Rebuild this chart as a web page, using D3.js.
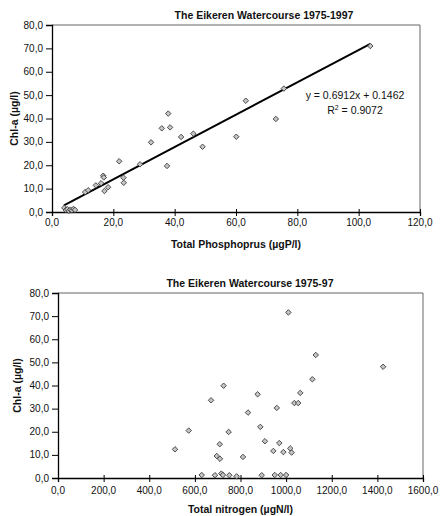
<!DOCTYPE html>
<head>
    <meta charset="utf-8" />
    <script src="https://d3js.org/d3.v7.min.js"></script>
    <style>
        body { margin: 0; background: #fff; }
        text { font-family: "Liberation Sans", Arial, sans-serif; fill: #111; }
        .tick-label { font-size: 10px; }
        .title { font-size: 10.5px; font-weight: bold; }
    </style>
</head>
<body>
<script>
    // Chl-a against total phosphorus
    var phosX = [4.0, 4.5, 5.0, 5.5, 6.0, 6.5, 7.0, 7.5, 10.8, 11.8, 14.3, 16.0, 16.7, 16.9, 17.1, 18.3, 21.9, 23.3, 23.4, 28.7, 32.3, 35.8, 37.5, 37.9, 38.5, 42.1, 46.1, 49.1, 60.1, 63.2, 73.0, 75.6, 103.8];
    var phosY = [1.8, 0.8, 1.2, 0.5, 1.0, 0.7, 1.3, 0.9, 8.5, 9.3, 11.4, 12.3, 15.5, 14.8, 9.0, 10.6, 21.7, 14.7, 12.5, 20.4, 29.8, 35.8, 19.7, 42.1, 36.2, 32.1, 33.5, 27.9, 32.2, 47.6, 39.8, 52.8, 71.0];
    var phosTicks = [0, 20, 40, 60, 80, 100, 120];
    // trend line as printed on the chart
    var slope = 0.6912, intercept = 0.1462, r2 = 0.9072;
    var trendRange = [3.9, 103.8];

    // Chl-a against total nitrogen
    var nitX = [513, 573, 630, 671, 688, 696, 709, 710, 716, 723, 726, 748, 751, 783, 811, 833, 875, 887, 893, 907, 944, 950, 959, 970, 976, 988, 1000, 1010, 1018, 1024, 1036, 1053, 1062, 1115, 1130, 1425];
    var nitY = [12.4, 20.5, 1.3, 33.6, 1.2, 9.5, 14.6, 8.3, 1.9, 1.3, 39.9, 19.9, 1.2, 0.7, 9.1, 28.3, 36.2, 22.1, 1.2, 15.9, 11.7, 1.3, 30.3, 15.1, 1.3, 11.2, 1.3, 71.6, 12.8, 11.0, 32.4, 32.4, 36.8, 42.7, 53.2, 48.1];
    var nitTicks = [0, 200, 400, 600, 800, 1000, 1200, 1400, 1600];

    var chlTicks = [0, 10, 20, 30, 40, 50, 60, 70, 80];

    var svg = d3.select("body").append("svg")
        .attr("width", 440)
        .attr("height", 516);

    var fmt = function(v) { return d3.format(".1f")(v).replace(".", ","); };

    function scatter(opt) {
        var x = d3.scaleLinear().domain([opt.xTicks[0], opt.xTicks[opt.xTicks.length - 1]]).range([opt.left, opt.right]);
        var y = d3.scaleLinear().domain([0, 80]).range([opt.bottom, opt.top]);
        var g = svg.append("g");

        // frame top / right (grey), axes (black)
        g.append("path")
            .attr("d", "M" + opt.left + "," + opt.top + "H" + opt.right + "V" + opt.bottom)
            .attr("fill", "none").attr("stroke", "#666").attr("stroke-width", 1);

        var xAxis = g.append("g").attr("transform", "translate(0," + opt.bottom + ")")
            .call(d3.axisBottom(x).tickValues(opt.xTicks).tickSize(4).tickFormat(""));
        xAxis.selectAll(".tick line").attr("y1", -3).attr("stroke", "#000");
        xAxis.select(".domain").attr("stroke", "#000").attr("stroke-width", 1.3);
        g.selectAll(".xlab").data(opt.xTicks).join("text")
            .attr("class", "tick-label")
            .attr("x", function(d) { return x(d); })
            .attr("y", opt.bottom + opt.xLabOff)
            .attr("text-anchor", "middle")
            .text(fmt);

        var yAxis = g.append("g").attr("transform", "translate(" + opt.left + ",0)")
            .call(d3.axisLeft(y).tickValues(chlTicks).tickSize(6).tickFormat(""));
        yAxis.selectAll(".tick line").attr("stroke", "#000");
        yAxis.select(".domain").attr("stroke", "#000").attr("stroke-width", 1.3);
        g.selectAll(".ylab").data(chlTicks).join("text")
            .attr("class", "tick-label")
            .attr("x", opt.left - 9)
            .attr("y", function(d) { return y(d) + 3.5; })
            .attr("text-anchor", "end")
            .text(fmt);

        // titles
        g.append("text").attr("class", "title")
            .attr("x", opt.titleX).attr("y", opt.top - 6)
            .attr("text-anchor", "middle").text(opt.title);
        g.append("text").attr("class", "title")
            .attr("x", (opt.left + opt.right) / 2).attr("y", opt.bottom + opt.xTitleOff)
            .attr("text-anchor", "middle").text(opt.xTitle);
        g.append("text").attr("class", "title")
            .attr("transform", "translate(" + opt.yTitleX + "," + (opt.top + opt.bottom) / 2 + ") rotate(-90)")
            .attr("text-anchor", "middle").text("Chl-a (µg/l)");

        if (opt.trend) {
            var line = d3.line()
                .x(function(d) { return x(d); })
                .y(function(d) { return y(slope * d + intercept); });
            g.append("path").attr("d", line(trendRange))
                .attr("fill", "none").attr("stroke", "#000").attr("stroke-width", 2);
            g.append("text").attr("class", "tick-label").style("font-size", "10.5px")
                .attr("x", 355).attr("y", 99).attr("text-anchor", "middle")
                .text("y = " + slope + "x + " + intercept);
            var rt = g.append("text").attr("class", "tick-label").style("font-size", "10.5px")
                .attr("x", 355).attr("y", 114).attr("text-anchor", "middle");
            rt.append("tspan").text("R");
            rt.append("tspan").attr("dy", -4).style("font-size", "7px").text("2");
            rt.append("tspan").attr("dy", 4).text(" = " + r2);
        }

        var sym = d3.symbol().type(d3.symbolSquare).size(15);
        g.selectAll(".pt").data(opt.xs).join("path")
            .attr("d", sym)
            .attr("transform", function(d, i) { return "translate(" + x(d) + "," + y(opt.ys[i]) + ") rotate(45)"; })
            .attr("fill", "#c4c4c4")
            .attr("stroke", "#333")
            .attr("stroke-width", 0.8);
    }

    scatter({
        xs: phosX, ys: phosY, xTicks: phosTicks,
        left: 52, right: 420, top: 25, bottom: 212,
        title: "The Eikeren Watercourse 1975-1997", titleX: 264,
        xTitle: "Total Phosphoprus (µgP/l)", xTitleOff: 36, xLabOff: 14,
        yTitleX: 18, trend: true
    });

    scatter({
        xs: nitX, ys: nitY, xTicks: nitTicks,
        left: 58, right: 423, top: 293, bottom: 478,
        title: "The Eikeren Watercourse 1975-97", titleX: 250,
        xTitle: "Total nitrogen (µgN/l)", xTitleOff: 35, xLabOff: 16,
        yTitleX: 21, trend: false
    });
</script>
</body>
